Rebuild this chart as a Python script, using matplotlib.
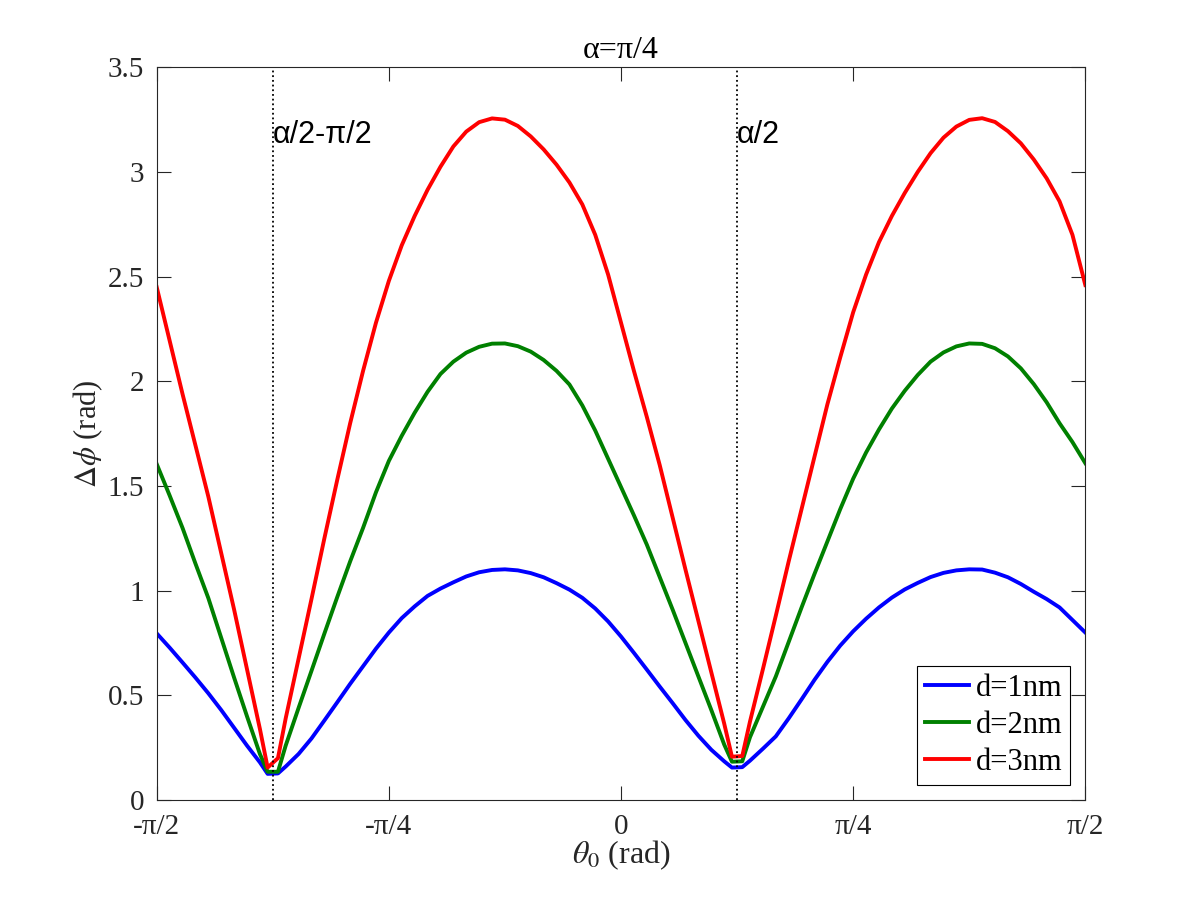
import numpy as np
import matplotlib
matplotlib.use("Agg")
import matplotlib.pyplot as plt

# ---------------- data ----------------
theta_deg = [-90, -87.5, -85, -82.5, -80, -77.5, -75, -72.5, -70,
             -68.5, -66.5,
             -65, -62.5, -60, -57.5, -55, -52.5, -50, -47.5, -45, -42.5,
             -40, -37.5, -35, -32.5, -30, -27.5, -25, -22.5, -20, -17.5,
             -15, -12.5, -10, -7.5, -5, -2.5, 0, 2.5, 5, 7.5,
             10, 12.5, 15, 17.5, 20,
             21.5, 23.5,
             25, 27.5, 30, 32.5, 35, 37.5, 40, 42.5, 45, 47.5,
             50, 52.5, 55, 57.5, 60, 62.5, 65, 67.5, 70, 72.5,
             75, 77.5, 80, 82.5, 85, 87.5, 90]

dphi_d1 = [0.796, 0.728, 0.657, 0.585, 0.51, 0.43, 0.345, 0.26, 0.18,
           0.125, 0.127,
           0.16, 0.22, 0.294, 0.38, 0.467, 0.555, 0.639, 0.723, 0.80, 0.869,
           0.925, 0.975, 1.01, 1.04, 1.068, 1.088, 1.099, 1.102, 1.097, 1.084,
           1.064, 1.036, 1.005, 0.966, 0.915, 0.853, 0.781, 0.703, 0.623, 0.542,
           0.463, 0.382, 0.307, 0.24, 0.185,
           0.155, 0.157,
           0.188, 0.245, 0.304, 0.39, 0.481, 0.574, 0.66, 0.738, 0.806, 0.866,
           0.92, 0.967, 1.006, 1.037, 1.065, 1.085, 1.097, 1.102, 1.101, 1.086,
           1.064, 1.032, 0.995, 0.96, 0.92, 0.86, 0.80]

dphi_d2 = [1.605, 1.455, 1.30, 1.13, 0.965, 0.775, 0.585, 0.40, 0.22,
           0.135, 0.135,
           0.26, 0.44, 0.617, 0.795, 0.97, 1.14, 1.30, 1.47, 1.62, 1.74,
           1.85, 1.95, 2.035, 2.094, 2.137, 2.165, 2.18, 2.181, 2.168, 2.142,
           2.102, 2.05, 1.985, 1.885, 1.765, 1.63, 1.495, 1.36, 1.22, 1.065,
           0.91, 0.75, 0.59, 0.43, 0.265,
           0.183, 0.185,
           0.30, 0.445, 0.59, 0.755, 0.92, 1.08, 1.235, 1.39, 1.535, 1.66,
           1.77, 1.87, 1.955, 2.03, 2.094, 2.138, 2.167, 2.181, 2.179, 2.158,
           2.119, 2.062, 1.987, 1.90, 1.80, 1.71, 1.609]

dphi_d3 = [2.45, 2.195, 1.94, 1.695, 1.45, 1.18, 0.91, 0.625, 0.34,
           0.155, 0.2,
           0.39, 0.675, 0.96, 1.25, 1.53, 1.80, 2.05, 2.28, 2.48, 2.65,
           2.79, 2.915, 3.025, 3.122, 3.193, 3.238, 3.256, 3.25, 3.22, 3.17,
           3.108, 3.035, 2.95, 2.845, 2.70, 2.51, 2.28, 2.05, 1.83, 1.60,
           1.35, 1.10, 0.855, 0.61, 0.365,
           0.207, 0.21,
           0.375, 0.625, 0.88, 1.14, 1.39, 1.64, 1.89, 2.115, 2.33, 2.51,
           2.665, 2.79, 2.90, 3.0, 3.09, 3.164, 3.217, 3.249, 3.257, 3.239,
           3.195, 3.137, 3.06, 2.97, 2.86, 2.70, 2.46]

series_labels = ["d=1nm", "d=2nm", "d=3nm"]
series_colors = ["#0000ff", "#008000", "#ff0000"]

xtick_vals = [-np.pi / 2, -np.pi / 4, 0, np.pi / 4, np.pi / 2]
xtick_labels = ["-π/2", "-π/4", "0", "π/4", "π/2"]
ytick_vals = [0, 0.5, 1, 1.5, 2, 2.5, 3, 3.5]
ytick_labels = ["0", "0.5", "1", "1.5", "2", "2.5", "3", "3.5"]

vline_x = [-3 * np.pi / 8, np.pi / 8]
vline_text = ["α/2-π/2", "α/2"]

# ---------------- plotting ----------------
plt.rcParams["font.family"] = ["Liberation Serif", "DejaVu Serif"]
plt.rcParams["mathtext.fontset"] = "stix"

axc = "#262626"
fig = plt.figure(figsize=(11.99, 8.99), dpi=100)
ax = fig.add_axes([0.1307, 0.1101, 0.7745, 0.8150])

theta = np.deg2rad(theta_deg)
for ys, lab, col in zip([dphi_d1, dphi_d2, dphi_d3], series_labels, series_colors):
    ax.plot(theta, ys, color=col, lw=2.8, label=lab, solid_joinstyle="round")

for xv, txt in zip(vline_x, vline_text):
    ax.axvline(xv, color="black", lw=1.3, ls=(0, (1, 1.6)))
    ax.text(xv, 3.175, txt, ha="left", va="center", fontsize=22,
            family=["Liberation Sans", "DejaVu Sans"], color="black")

ax.set_xlim(-np.pi / 2, np.pi / 2)
ax.set_ylim(0, 3.5)
ax.set_xticks(xtick_vals)
ax.set_xticklabels(xtick_labels)
ax.set_yticks(ytick_vals)
ax.set_yticklabels(ytick_labels)

ax.tick_params(direction="in", length=10, width=0.8, top=True, right=True,
               labelsize=21, colors=axc)
ax.tick_params(axis="y", pad=9)
ax.tick_params(axis="x", pad=10)
for sp in ax.spines.values():
    sp.set_color(axc)
    sp.set_linewidth(0.8)

ax.set_xlabel(r"$\theta_0$ (rad)", fontsize=23, color=axc, labelpad=-1)
ax.set_ylabel(r"$\Delta\phi$ (rad)", fontsize=22, color=axc, labelpad=2)
ax.set_title("α=π/4", fontsize=23, color="black", pad=7)

leg = ax.legend(loc="lower right", fontsize=22, frameon=True, fancybox=False,
                framealpha=1, edgecolor="black", handlelength=1.45,
                handletextpad=0.2, labelspacing=0.26, borderaxespad=0.5,
                borderpad=0.26)
leg.get_frame().set_linewidth(0.8)

fig.savefig("out.png", dpi=100)
